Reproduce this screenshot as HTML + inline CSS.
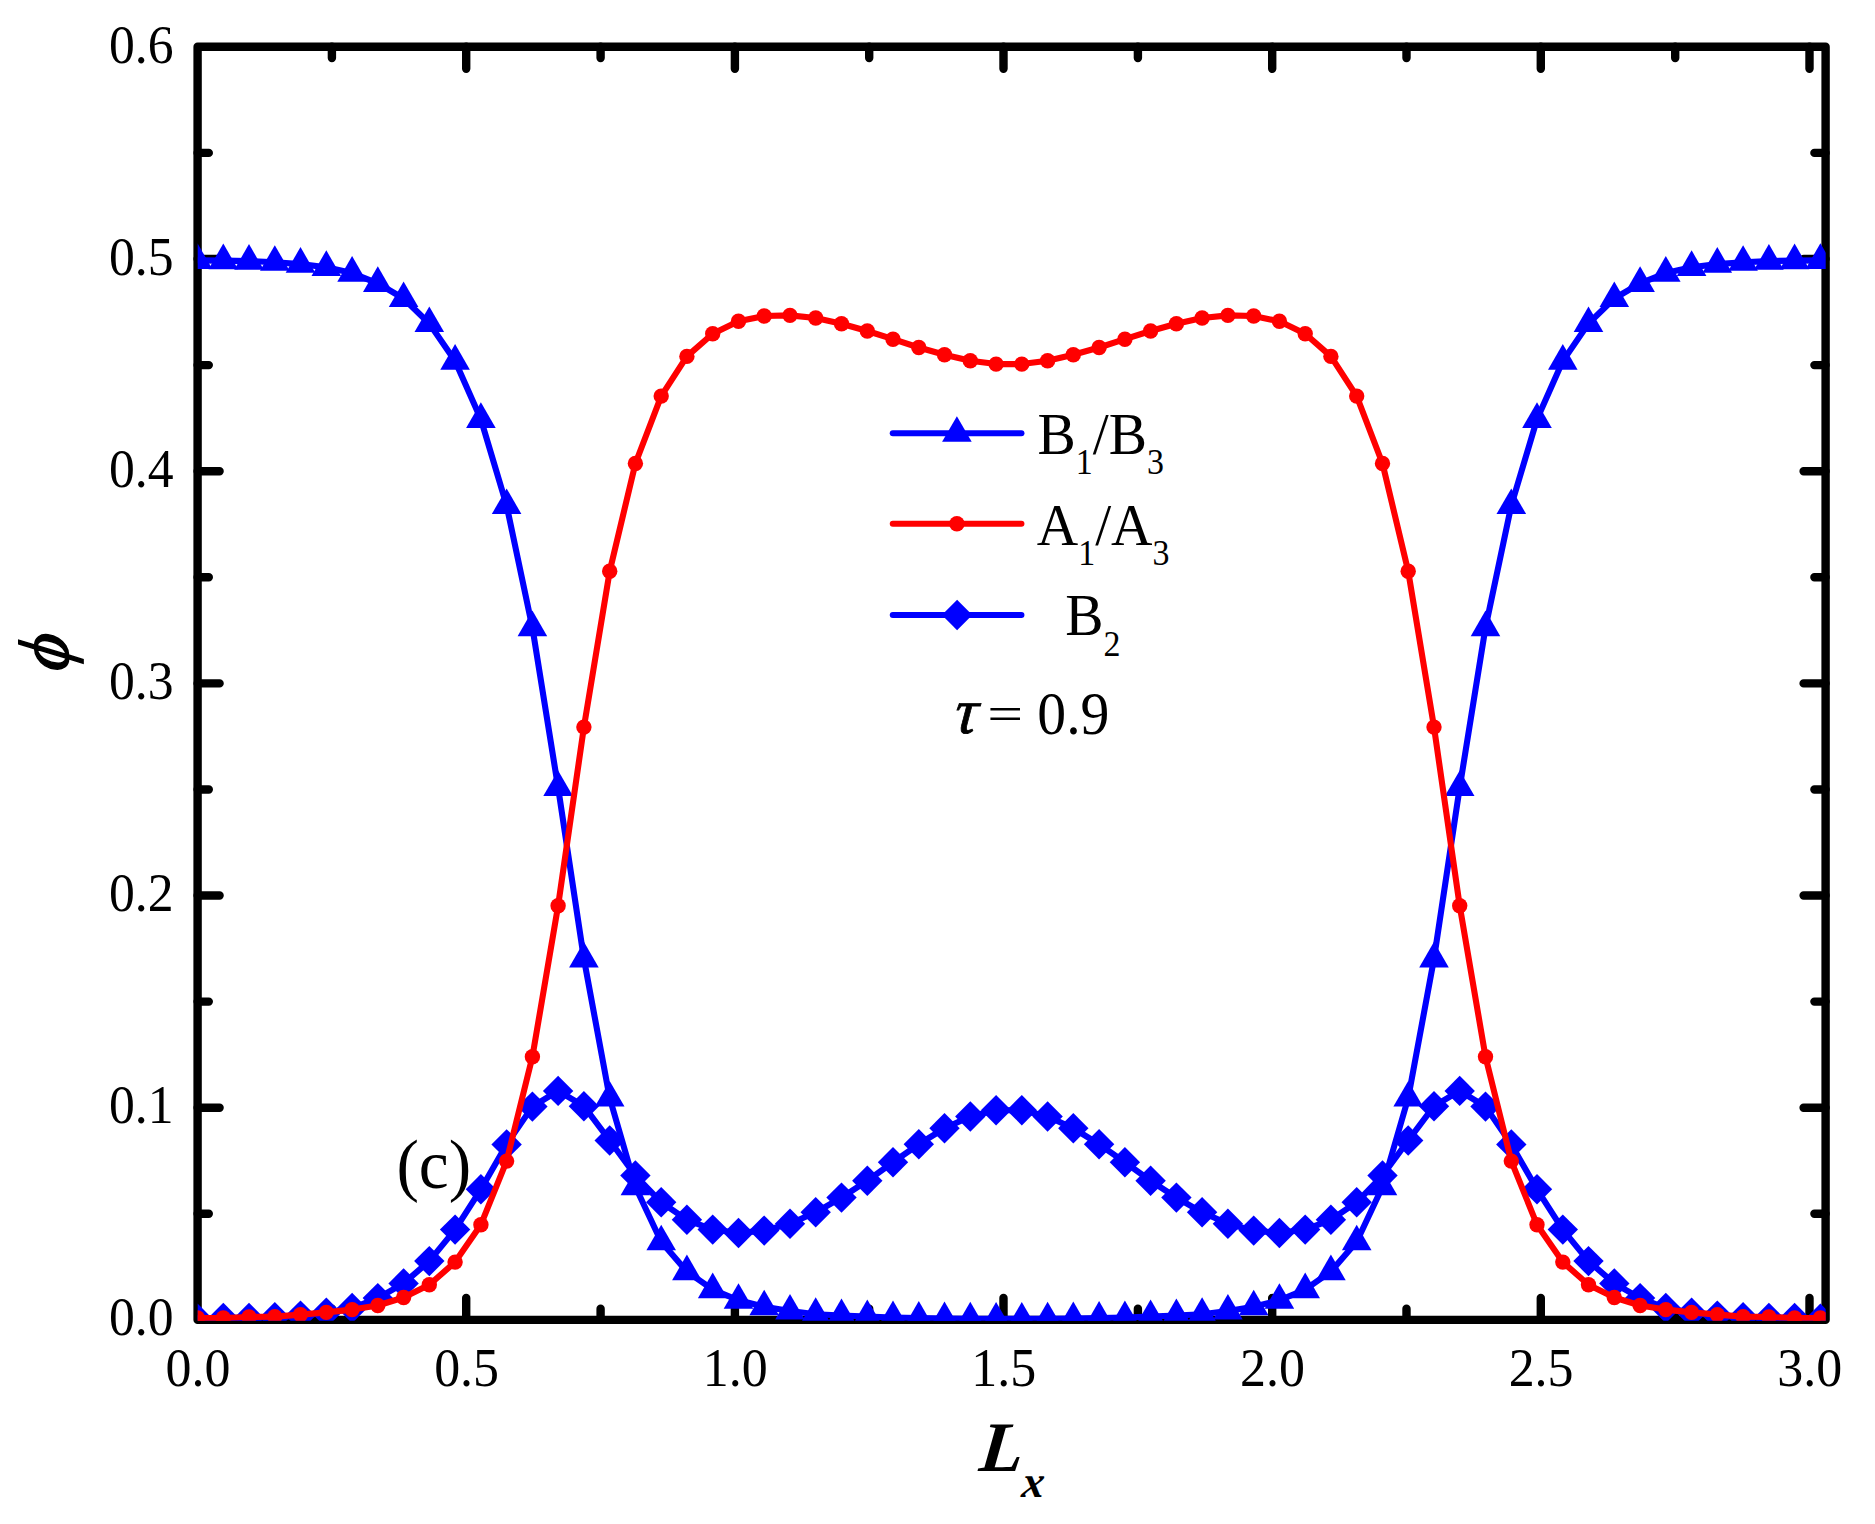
<!DOCTYPE html>
<html lang="en"><head><meta charset="utf-8"><title>phi vs Lx (c)</title>
<style>
html,body{margin:0;padding:0;background:#fff}
svg{display:block}
text{font-family:"Liberation Serif","DejaVu Serif",serif;fill:#000}
.tk{font-size:54px}
.lg{font-size:59.2px}
.sub{font-size:35px}
.bi{font-weight:bold;font-style:italic}
</style></head><body>
<svg width="1875" height="1524" viewBox="0 0 1875 1524">
<rect width="1875" height="1524" fill="#fff"/>
<clipPath id="plot"><rect x="197.7" y="40" width="1628" height="1280.8"/></clipPath>

<g fill="none" stroke="#000" stroke-width="8.4" stroke-linecap="round" stroke-linejoin="round">
<rect x="197.6" y="46.8" width="1628.0" height="1273.1000000000001"/>
<path d="M331.9 1319.9v-11.2M331.9 46.8v11.2M466.2 1319.9v-22M466.2 46.8v22M600.6 1319.9v-11.2M600.6 46.8v11.2M734.9 1319.9v-22M734.9 46.8v22M869.2 1319.9v-11.2M869.2 46.8v11.2M1003.5 1319.9v-22M1003.5 46.8v22M1137.9 1319.9v-11.2M1137.9 46.8v11.2M1272.2 1319.9v-22M1272.2 46.8v22M1406.5 1319.9v-11.2M1406.5 46.8v11.2M1540.8 1319.9v-22M1540.8 46.8v22M1675.2 1319.9v-11.2M1675.2 46.8v11.2M1809.5 1319.9v-22M1809.5 46.8v22M197.6 1213.8h11.2M1825.6 1213.8h-11.2M197.6 1107.7h22M1825.6 1107.7h-22M197.6 1001.6h11.2M1825.6 1001.6h-11.2M197.6 895.5h22M1825.6 895.5h-22M197.6 789.5h11.2M1825.6 789.5h-11.2M197.6 683.4h22M1825.6 683.4h-22M197.6 577.3h11.2M1825.6 577.3h-11.2M197.6 471.2h22M1825.6 471.2h-22M197.6 365.1h11.2M1825.6 365.1h-11.2M197.6 259h22M1825.6 259h-22M197.6 152.9h11.2M1825.6 152.9h-11.2"/>
</g>
<g clip-path="url(#plot)">
<polyline fill="none" stroke="#0000ff" stroke-width="6.1" stroke-linejoin="round" points="197.5,260.3 223.3,260.6 249,261.1 274.8,262.2 300.5,264.1 326.3,267.3 352.1,273.1 377.8,283.3 403.6,298.5 429.3,323.5 455.1,361.1 480.9,419.3 506.6,505.4 532.4,627.6 558.1,787.5 583.9,958.8 609.7,1098 635.4,1186.7 661.2,1241.7 686.9,1271.6 712.7,1289.6 738.5,1300.2 764.2,1306.7 790,1311 815.7,1314.2 841.5,1315.5 867.3,1316.5 893,1317.5 918.8,1318.1 944.5,1318.5 970.3,1318.8 996.1,1318.9 1021.8,1318.9 1047.6,1318.8 1073.3,1318.5 1099.1,1318.1 1124.9,1317.5 1150.6,1316.5 1176.4,1315.5 1202.1,1314.2 1227.9,1311 1253.7,1306.7 1279.4,1300.2 1305.2,1289.6 1330.9,1271.6 1356.7,1241.7 1382.5,1186.7 1408.2,1098 1434,958.8 1459.7,787.5 1485.5,627.6 1511.3,505.4 1537,419.3 1562.8,361.1 1588.5,323.5 1614.3,298.5 1640.1,283.3 1665.8,273.1 1691.6,267.3 1717.3,264.1 1743.1,262.2 1768.9,261.1 1794.6,260.6 1820.4,260.3"/>
<g fill="#0000ff"><polygon points="197.5,243.3 182.7,268.9 212.3,268.9"/><polygon points="223.3,243.6 208.5,269.2 238.1,269.2"/><polygon points="249,244.1 234.2,269.7 263.8,269.7"/><polygon points="274.8,245.2 260,270.8 289.6,270.8"/><polygon points="300.5,247.1 285.7,272.7 315.3,272.7"/><polygon points="326.3,250.3 311.5,275.9 341.1,275.9"/><polygon points="352.1,256.1 337.3,281.7 366.9,281.7"/><polygon points="377.8,266.3 363,291.9 392.6,291.9"/><polygon points="403.6,281.5 388.8,307.1 418.4,307.1"/><polygon points="429.3,306.5 414.5,332.1 444.1,332.1"/><polygon points="455.1,344.1 440.3,369.7 469.9,369.7"/><polygon points="480.9,402.3 466.1,427.9 495.7,427.9"/><polygon points="506.6,488.4 491.8,514 521.4,514"/><polygon points="532.4,610.6 517.6,636.2 547.2,636.2"/><polygon points="558.1,770.5 543.3,796.1 572.9,796.1"/><polygon points="583.9,941.8 569.1,967.4 598.7,967.4"/><polygon points="609.7,1081 594.9,1106.6 624.5,1106.6"/><polygon points="635.4,1169.7 620.6,1195.3 650.2,1195.3"/><polygon points="661.2,1224.7 646.4,1250.3 676,1250.3"/><polygon points="686.9,1254.6 672.1,1280.2 701.7,1280.2"/><polygon points="712.7,1272.6 697.9,1298.2 727.5,1298.2"/><polygon points="738.5,1283.2 723.7,1308.8 753.3,1308.8"/><polygon points="764.2,1289.7 749.4,1315.3 779,1315.3"/><polygon points="790,1294 775.2,1319.6 804.8,1319.6"/><polygon points="815.7,1297.2 800.9,1322.8 830.5,1322.8"/><polygon points="841.5,1298.5 826.7,1324.1 856.3,1324.1"/><polygon points="867.3,1299.5 852.5,1325.1 882.1,1325.1"/><polygon points="893,1300.5 878.2,1326.1 907.8,1326.1"/><polygon points="918.8,1301.1 904,1326.7 933.6,1326.7"/><polygon points="944.5,1301.5 929.7,1327.1 959.3,1327.1"/><polygon points="970.3,1301.8 955.5,1327.4 985.1,1327.4"/><polygon points="996.1,1301.9 981.3,1327.5 1010.9,1327.5"/><polygon points="1021.8,1301.9 1007,1327.5 1036.6,1327.5"/><polygon points="1047.6,1301.8 1032.8,1327.4 1062.4,1327.4"/><polygon points="1073.3,1301.5 1058.5,1327.1 1088.1,1327.1"/><polygon points="1099.1,1301.1 1084.3,1326.7 1113.9,1326.7"/><polygon points="1124.9,1300.5 1110.1,1326.1 1139.7,1326.1"/><polygon points="1150.6,1299.5 1135.8,1325.1 1165.4,1325.1"/><polygon points="1176.4,1298.5 1161.6,1324.1 1191.2,1324.1"/><polygon points="1202.1,1297.2 1187.3,1322.8 1216.9,1322.8"/><polygon points="1227.9,1294 1213.1,1319.6 1242.7,1319.6"/><polygon points="1253.7,1289.7 1238.9,1315.3 1268.5,1315.3"/><polygon points="1279.4,1283.2 1264.6,1308.8 1294.2,1308.8"/><polygon points="1305.2,1272.6 1290.4,1298.2 1320,1298.2"/><polygon points="1330.9,1254.6 1316.1,1280.2 1345.7,1280.2"/><polygon points="1356.7,1224.7 1341.9,1250.3 1371.5,1250.3"/><polygon points="1382.5,1169.7 1367.7,1195.3 1397.3,1195.3"/><polygon points="1408.2,1081 1393.4,1106.6 1423,1106.6"/><polygon points="1434,941.8 1419.2,967.4 1448.8,967.4"/><polygon points="1459.7,770.5 1444.9,796.1 1474.5,796.1"/><polygon points="1485.5,610.6 1470.7,636.2 1500.3,636.2"/><polygon points="1511.3,488.4 1496.5,514 1526.1,514"/><polygon points="1537,402.3 1522.2,427.9 1551.8,427.9"/><polygon points="1562.8,344.1 1548,369.7 1577.6,369.7"/><polygon points="1588.5,306.5 1573.7,332.1 1603.3,332.1"/><polygon points="1614.3,281.5 1599.5,307.1 1629.1,307.1"/><polygon points="1640.1,266.3 1625.3,291.9 1654.9,291.9"/><polygon points="1665.8,256.1 1651,281.7 1680.6,281.7"/><polygon points="1691.6,250.3 1676.8,275.9 1706.4,275.9"/><polygon points="1717.3,247.1 1702.5,272.7 1732.1,272.7"/><polygon points="1743.1,245.2 1728.3,270.8 1757.9,270.8"/><polygon points="1768.9,244.1 1754.1,269.7 1783.7,269.7"/><polygon points="1794.6,243.6 1779.8,269.2 1809.4,269.2"/><polygon points="1820.4,243.3 1805.6,268.9 1835.2,268.9"/></g>
<polyline fill="none" stroke="#0000ff" stroke-width="6.1" stroke-linejoin="round" points="197.5,1318.8 223.3,1317.9 249,1317.9 274.8,1317.2 300.5,1315.6 326.3,1312.7 352.1,1308 377.8,1298.1 403.6,1283.4 429.3,1261.1 455.1,1229.6 480.9,1189.3 506.6,1144.4 532.4,1106.6 558.1,1090.9 583.9,1106.2 609.7,1140.5 635.4,1175.5 661.2,1202.3 686.9,1219.8 712.7,1229.6 738.5,1233 764.2,1230.6 790,1223.7 815.7,1212.3 841.5,1197.6 867.3,1180.8 893,1162.2 918.8,1144.2 944.5,1128.3 970.3,1116.5 996.1,1110.2 1021.8,1110.2 1047.6,1116.5 1073.3,1128.3 1099.1,1144.2 1124.9,1162.2 1150.6,1180.8 1176.4,1197.6 1202.1,1212.3 1227.9,1223.7 1253.7,1230.6 1279.4,1233 1305.2,1229.6 1330.9,1219.8 1356.7,1202.3 1382.5,1175.5 1408.2,1140.5 1434,1106.2 1459.7,1090.9 1485.5,1106.6 1511.3,1144.4 1537,1189.3 1562.8,1229.6 1588.5,1261.1 1614.3,1283.4 1640.1,1298.1 1665.8,1308 1691.6,1312.7 1717.3,1315.6 1743.1,1317.2 1768.9,1317.9 1794.6,1317.9 1820.4,1318.8"/>
<g fill="#0000ff"><polygon points="197.5,1303.6 212.7,1318.8 197.5,1334 182.3,1318.8"/><polygon points="223.3,1302.7 238.5,1317.9 223.3,1333.1 208.1,1317.9"/><polygon points="249,1302.7 264.2,1317.9 249,1333.1 233.8,1317.9"/><polygon points="274.8,1302 290,1317.2 274.8,1332.4 259.6,1317.2"/><polygon points="300.5,1300.4 315.7,1315.6 300.5,1330.8 285.3,1315.6"/><polygon points="326.3,1297.5 341.5,1312.7 326.3,1327.9 311.1,1312.7"/><polygon points="352.1,1292.8 367.3,1308 352.1,1323.2 336.9,1308"/><polygon points="377.8,1282.9 393,1298.1 377.8,1313.3 362.6,1298.1"/><polygon points="403.6,1268.2 418.8,1283.4 403.6,1298.6 388.4,1283.4"/><polygon points="429.3,1245.9 444.5,1261.1 429.3,1276.3 414.1,1261.1"/><polygon points="455.1,1214.4 470.3,1229.6 455.1,1244.8 439.9,1229.6"/><polygon points="480.9,1174.1 496.1,1189.3 480.9,1204.5 465.7,1189.3"/><polygon points="506.6,1129.2 521.8,1144.4 506.6,1159.6 491.4,1144.4"/><polygon points="532.4,1091.4 547.6,1106.6 532.4,1121.8 517.2,1106.6"/><polygon points="558.1,1075.7 573.3,1090.9 558.1,1106.1 542.9,1090.9"/><polygon points="583.9,1091 599.1,1106.2 583.9,1121.4 568.7,1106.2"/><polygon points="609.7,1125.3 624.9,1140.5 609.7,1155.7 594.5,1140.5"/><polygon points="635.4,1160.3 650.6,1175.5 635.4,1190.7 620.2,1175.5"/><polygon points="661.2,1187.1 676.4,1202.3 661.2,1217.5 646,1202.3"/><polygon points="686.9,1204.6 702.1,1219.8 686.9,1235 671.7,1219.8"/><polygon points="712.7,1214.4 727.9,1229.6 712.7,1244.8 697.5,1229.6"/><polygon points="738.5,1217.8 753.7,1233 738.5,1248.2 723.3,1233"/><polygon points="764.2,1215.4 779.4,1230.6 764.2,1245.8 749,1230.6"/><polygon points="790,1208.5 805.2,1223.7 790,1238.9 774.8,1223.7"/><polygon points="815.7,1197.1 830.9,1212.3 815.7,1227.5 800.5,1212.3"/><polygon points="841.5,1182.4 856.7,1197.6 841.5,1212.8 826.3,1197.6"/><polygon points="867.3,1165.6 882.5,1180.8 867.3,1196 852.1,1180.8"/><polygon points="893,1147 908.2,1162.2 893,1177.4 877.8,1162.2"/><polygon points="918.8,1129 934,1144.2 918.8,1159.4 903.6,1144.2"/><polygon points="944.5,1113.1 959.7,1128.3 944.5,1143.5 929.3,1128.3"/><polygon points="970.3,1101.3 985.5,1116.5 970.3,1131.7 955.1,1116.5"/><polygon points="996.1,1095 1011.3,1110.2 996.1,1125.4 980.9,1110.2"/><polygon points="1021.8,1095 1037,1110.2 1021.8,1125.4 1006.6,1110.2"/><polygon points="1047.6,1101.3 1062.8,1116.5 1047.6,1131.7 1032.4,1116.5"/><polygon points="1073.3,1113.1 1088.5,1128.3 1073.3,1143.5 1058.1,1128.3"/><polygon points="1099.1,1129 1114.3,1144.2 1099.1,1159.4 1083.9,1144.2"/><polygon points="1124.9,1147 1140.1,1162.2 1124.9,1177.4 1109.7,1162.2"/><polygon points="1150.6,1165.6 1165.8,1180.8 1150.6,1196 1135.4,1180.8"/><polygon points="1176.4,1182.4 1191.6,1197.6 1176.4,1212.8 1161.2,1197.6"/><polygon points="1202.1,1197.1 1217.3,1212.3 1202.1,1227.5 1186.9,1212.3"/><polygon points="1227.9,1208.5 1243.1,1223.7 1227.9,1238.9 1212.7,1223.7"/><polygon points="1253.7,1215.4 1268.9,1230.6 1253.7,1245.8 1238.5,1230.6"/><polygon points="1279.4,1217.8 1294.6,1233 1279.4,1248.2 1264.2,1233"/><polygon points="1305.2,1214.4 1320.4,1229.6 1305.2,1244.8 1290,1229.6"/><polygon points="1330.9,1204.6 1346.1,1219.8 1330.9,1235 1315.7,1219.8"/><polygon points="1356.7,1187.1 1371.9,1202.3 1356.7,1217.5 1341.5,1202.3"/><polygon points="1382.5,1160.3 1397.7,1175.5 1382.5,1190.7 1367.3,1175.5"/><polygon points="1408.2,1125.3 1423.4,1140.5 1408.2,1155.7 1393,1140.5"/><polygon points="1434,1091 1449.2,1106.2 1434,1121.4 1418.8,1106.2"/><polygon points="1459.7,1075.7 1474.9,1090.9 1459.7,1106.1 1444.5,1090.9"/><polygon points="1485.5,1091.4 1500.7,1106.6 1485.5,1121.8 1470.3,1106.6"/><polygon points="1511.3,1129.2 1526.5,1144.4 1511.3,1159.6 1496.1,1144.4"/><polygon points="1537,1174.1 1552.2,1189.3 1537,1204.5 1521.8,1189.3"/><polygon points="1562.8,1214.4 1578,1229.6 1562.8,1244.8 1547.6,1229.6"/><polygon points="1588.5,1245.9 1603.7,1261.1 1588.5,1276.3 1573.3,1261.1"/><polygon points="1614.3,1268.2 1629.5,1283.4 1614.3,1298.6 1599.1,1283.4"/><polygon points="1640.1,1282.9 1655.3,1298.1 1640.1,1313.3 1624.9,1298.1"/><polygon points="1665.8,1292.8 1681,1308 1665.8,1323.2 1650.6,1308"/><polygon points="1691.6,1297.5 1706.8,1312.7 1691.6,1327.9 1676.4,1312.7"/><polygon points="1717.3,1300.4 1732.5,1315.6 1717.3,1330.8 1702.1,1315.6"/><polygon points="1743.1,1302 1758.3,1317.2 1743.1,1332.4 1727.9,1317.2"/><polygon points="1768.9,1302.7 1784.1,1317.9 1768.9,1333.1 1753.7,1317.9"/><polygon points="1794.6,1302.7 1809.8,1317.9 1794.6,1333.1 1779.4,1317.9"/><polygon points="1820.4,1303.6 1835.6,1318.8 1820.4,1334 1805.2,1318.8"/></g>
<polyline fill="none" stroke="#ff0000" stroke-width="6.1" stroke-linejoin="round" points="197.5,1318 223.3,1318 249,1317 274.8,1316.6 300.5,1314.6 326.3,1312.4 352.1,1309.6 377.8,1305.5 403.6,1297.5 429.3,1284.8 455.1,1262.1 480.9,1224.7 506.6,1161.1 532.4,1056.8 558.1,905.7 583.9,727.1 609.7,571.2 635.4,463.5 661.2,396.1 686.9,356.4 712.7,333.7 738.5,321.3 764.2,316 790,315.4 815.7,318 841.5,323.7 867.3,331 893,339.2 918.8,347.5 944.5,354.8 970.3,360.7 996.1,364.1 1021.8,364.1 1047.6,360.7 1073.3,354.8 1099.1,347.5 1124.9,339.2 1150.6,331 1176.4,323.7 1202.1,318 1227.9,315.4 1253.7,316 1279.4,321.3 1305.2,333.7 1330.9,356.4 1356.7,396.1 1382.5,463.5 1408.2,571.2 1434,727.1 1459.7,905.7 1485.5,1056.8 1511.3,1161.1 1537,1224.7 1562.8,1262.1 1588.5,1284.8 1614.3,1297.5 1640.1,1305.5 1665.8,1309.6 1691.6,1312.4 1717.3,1314.6 1743.1,1316.6 1768.9,1317 1794.6,1318 1820.4,1318"/>
<g fill="#ff0000"><circle cx="197.5" cy="1318" r="7.7"/><circle cx="223.3" cy="1318" r="7.7"/><circle cx="249" cy="1317" r="7.7"/><circle cx="274.8" cy="1316.6" r="7.7"/><circle cx="300.5" cy="1314.6" r="7.7"/><circle cx="326.3" cy="1312.4" r="7.7"/><circle cx="352.1" cy="1309.6" r="7.7"/><circle cx="377.8" cy="1305.5" r="7.7"/><circle cx="403.6" cy="1297.5" r="7.7"/><circle cx="429.3" cy="1284.8" r="7.7"/><circle cx="455.1" cy="1262.1" r="7.7"/><circle cx="480.9" cy="1224.7" r="7.7"/><circle cx="506.6" cy="1161.1" r="7.7"/><circle cx="532.4" cy="1056.8" r="7.7"/><circle cx="558.1" cy="905.7" r="7.7"/><circle cx="583.9" cy="727.1" r="7.7"/><circle cx="609.7" cy="571.2" r="7.7"/><circle cx="635.4" cy="463.5" r="7.7"/><circle cx="661.2" cy="396.1" r="7.7"/><circle cx="686.9" cy="356.4" r="7.7"/><circle cx="712.7" cy="333.7" r="7.7"/><circle cx="738.5" cy="321.3" r="7.7"/><circle cx="764.2" cy="316" r="7.7"/><circle cx="790" cy="315.4" r="7.7"/><circle cx="815.7" cy="318" r="7.7"/><circle cx="841.5" cy="323.7" r="7.7"/><circle cx="867.3" cy="331" r="7.7"/><circle cx="893" cy="339.2" r="7.7"/><circle cx="918.8" cy="347.5" r="7.7"/><circle cx="944.5" cy="354.8" r="7.7"/><circle cx="970.3" cy="360.7" r="7.7"/><circle cx="996.1" cy="364.1" r="7.7"/><circle cx="1021.8" cy="364.1" r="7.7"/><circle cx="1047.6" cy="360.7" r="7.7"/><circle cx="1073.3" cy="354.8" r="7.7"/><circle cx="1099.1" cy="347.5" r="7.7"/><circle cx="1124.9" cy="339.2" r="7.7"/><circle cx="1150.6" cy="331" r="7.7"/><circle cx="1176.4" cy="323.7" r="7.7"/><circle cx="1202.1" cy="318" r="7.7"/><circle cx="1227.9" cy="315.4" r="7.7"/><circle cx="1253.7" cy="316" r="7.7"/><circle cx="1279.4" cy="321.3" r="7.7"/><circle cx="1305.2" cy="333.7" r="7.7"/><circle cx="1330.9" cy="356.4" r="7.7"/><circle cx="1356.7" cy="396.1" r="7.7"/><circle cx="1382.5" cy="463.5" r="7.7"/><circle cx="1408.2" cy="571.2" r="7.7"/><circle cx="1434" cy="727.1" r="7.7"/><circle cx="1459.7" cy="905.7" r="7.7"/><circle cx="1485.5" cy="1056.8" r="7.7"/><circle cx="1511.3" cy="1161.1" r="7.7"/><circle cx="1537" cy="1224.7" r="7.7"/><circle cx="1562.8" cy="1262.1" r="7.7"/><circle cx="1588.5" cy="1284.8" r="7.7"/><circle cx="1614.3" cy="1297.5" r="7.7"/><circle cx="1640.1" cy="1305.5" r="7.7"/><circle cx="1665.8" cy="1309.6" r="7.7"/><circle cx="1691.6" cy="1312.4" r="7.7"/><circle cx="1717.3" cy="1314.6" r="7.7"/><circle cx="1743.1" cy="1316.6" r="7.7"/><circle cx="1768.9" cy="1317" r="7.7"/><circle cx="1794.6" cy="1318" r="7.7"/><circle cx="1820.4" cy="1318" r="7.7"/></g>
</g>
<g class="tk" text-anchor="middle">
<text transform="translate(197.9,1385.7) scale(0.962,1)">0.0</text>
<text transform="translate(466.6,1385.7) scale(0.962,1)">0.5</text>
<text transform="translate(735.2,1385.7) scale(0.962,1)">1.0</text>
<text transform="translate(1003.8,1385.7) scale(0.962,1)">1.5</text>
<text transform="translate(1272.5,1385.7) scale(0.962,1)">2.0</text>
<text transform="translate(1541.1,1385.7) scale(0.962,1)">2.5</text>
<text transform="translate(1809.8,1385.7) scale(0.962,1)">3.0</text>
</g>
<g class="tk" text-anchor="end">
<text transform="translate(173.5,1334.9) scale(0.957,1)">0.0</text>
<text transform="translate(173.5,1122.8) scale(0.957,1)">0.1</text>
<text transform="translate(173.5,910.8) scale(0.957,1)">0.2</text>
<text transform="translate(173.5,698.7) scale(0.957,1)">0.3</text>
<text transform="translate(173.5,486.7) scale(0.957,1)">0.4</text>
<text transform="translate(173.5,274.6) scale(0.957,1)">0.5</text>
<text transform="translate(173.5,62.5) scale(0.957,1)">0.6</text>
</g>
<text class="bi" font-size="71" transform="translate(978,1470.9) skewX(-6)">L<tspan font-size="45" dx="2" dy="25.6">x</tspan></text>
<text font-style="italic" stroke="#000" stroke-width="1.5" font-size="71" transform="translate(68.2,653.8) rotate(-90) skewX(-7)" text-anchor="middle">ϕ</text>
<g fill="none" stroke-width="6.1" stroke-linecap="round">
<path stroke="#0000ff" d="M892.8 433.2H1021.4"/>
<path stroke="#ff0000" d="M892.8 523.7H1021.4"/>
<path stroke="#0000ff" d="M892.8 615H1021.4"/>
</g>
<g fill="#0000ff"><polygon points="956.9,416.2 942.1,441.8 971.7,441.8"/><polygon points="957.1,599.8 972.3,615 957.1,630.2 941.9,615"/></g>
<g fill="#ff0000"><circle cx="956.9" cy="523.7" r="7.7"/></g>
<text class="lg" transform="translate(1037.5,453.6) scale(0.97,1)">B<tspan class="sub" dy="20.8">1</tspan><tspan dy="-20.8">/B</tspan><tspan class="sub" dy="20.8">3</tspan></text>
<text class="lg" transform="translate(1036.7,544.5) scale(0.97,1)">A<tspan class="sub" dy="20.8">1</tspan><tspan dy="-20.8">/A</tspan><tspan class="sub" dy="20.8">3</tspan></text>
<text class="lg" transform="translate(1065.3,635.3) scale(0.97,1)">B<tspan class="sub" dy="20.8">2</tspan></text>
<text font-size="64.5" font-style="italic" stroke="#000" stroke-width="0.8" transform="translate(953.6,733) skewX(-5)">τ</text>
<text font-size="61.4" transform="translate(987.2,730) scale(1.035,0.8)">=</text>
<text font-size="61.4" transform="translate(1037.3,733.5) scale(0.94,1)">0.9</text>
<text font-size="70" transform="translate(396.4,1187.6) scale(0.963,1)">(c)</text>
</svg></body></html>
